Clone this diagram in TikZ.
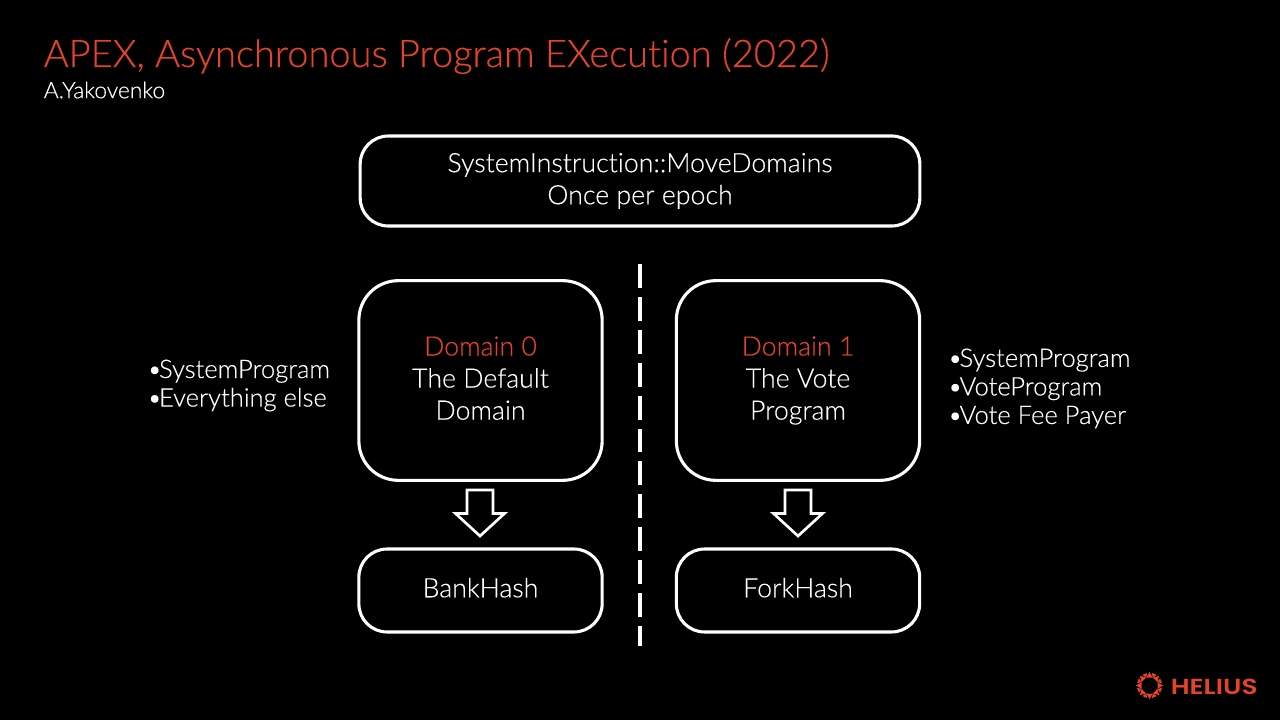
\documentclass[tikz,border=0pt]{standalone}
\usepackage{fontspec}
\setmainfont{Lato Light}[Ligatures={NoCommon,NoContextual,NoRequired},RawFeature={embolden=0.25}]
\newfontfamily\logofont{Poppins SemiBold}[FakeStretch=1.21]
\usetikzlibrary{positioning}
\definecolor{apexred}{RGB}{226,67,41}
\tikzset{
    bigbox/.style={draw=white, line width=2.2pt, rounded corners=20pt, text=white, align=center, font=\fontsize{19}{22.8}\selectfont},
    topbox/.style={bigbox, minimum width=398pt, minimum height=64pt},
    domainbox/.style={bigbox, rounded corners=28pt, minimum width=173pt, minimum height=142pt},
    hashbox/.style={bigbox, minimum width=173pt, minimum height=59pt, text depth=4.2pt},
    bulletlist/.style={text=white, align=left, font=\fontsize{18.2}{20.3}\selectfont, inner sep=0pt},
    titletext/.style={text=apexred, anchor=west, inner sep=0pt, font=\fontsize{27.05}{30}\selectfont},
    authortext/.style={text=white, anchor=west, inner sep=0pt, font=\fontsize{16.2}{18}\selectfont},
    ray/.style={fill=apexred, draw=none},
    downarrow/.pic={
        \draw[white, line width=1.9pt, miter limit=4] (-13,-23.5) -- (13,-23.5) -- (13,0) -- (24.5,0) -- (0,22.5) -- (-24.5,0) -- (-13,0) -- cycle;
    }
}
\newcommand{\blt}{•\hspace{-2.2pt}}
\begin{document}
\begin{tikzpicture}[x=0.025cm,y=-0.025cm]
    \fill[black] (0,0) rectangle (1280,720);
    \useasboundingbox (0,0) rectangle (1280,720);
    \node[titletext] (title) at (43.5,56) {APEX, Asynchronous Program EXecution (2022)};
    \node[authortext] (author) at (43.5,90) {A.Yakovenko};

    \node[topbox] (moved) at (640,181) {SystemInstruction::MoveDomains\\Once per epoch};
    \node[domainbox] (dom0) at (480.5,380.5) {\textcolor{apexred}{Domain 0}\\The Default\\Domain\vphantom{g}};
    \node[domainbox] (dom1) at (798,380.5) {\textcolor{apexred}{Domain 1}\\The Vote\\Program};
    \node[hashbox] (bank) at (480.5,590.5) {BankHash};
    \node[hashbox] (fork) at (798,590.5) {ForkHash};

    \pic at (480,513.5) {downarrow};
    \pic at (798,513.5) {downarrow};

    \coordinate (splittop) at (640,264);
    \coordinate (splitbot) at (640,646);
    \draw[white, line width=2.2pt, dash pattern=on 17pt off 6.4pt] (splittop) -- (splitbot);

    \node[bulletlist, anchor=west] (list0) at (147,385.5) {\blt SystemProgram\\\blt Everything else};
    \node[bulletlist, anchor=west] (list1) at (947.5,388.5) {\blt SystemProgram\\\blt VoteProgram\\\blt Vote Fee Payer};

    % logo
    \coordinate (sun) at (1149.5,685.5);
    \foreach \a in {0,45,...,315} {
        \fill[ray, shift={(sun)}, rotate=\a] (-3.2,-8) -- (3.2,-8) -- (0,-13.5) -- cycle;
        \fill[ray, shift={(sun)}, rotate=\a+22.5] (-2.6,-12.5) -- (2.6,-12.5) -- (0,-8.5) -- cycle;
    }
    \node[text=apexred, anchor=west, inner sep=0pt, font=\logofont\fontsize{15.5}{15.5}\selectfont] (helius) at (1170.5,686.5) {HELIUS};
\end{tikzpicture}
\end{document}
